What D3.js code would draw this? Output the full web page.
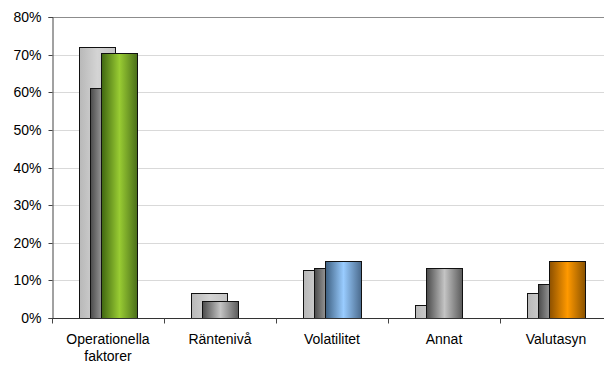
<!DOCTYPE html>
<html>
<head>
<meta charset="utf-8">
<script src="https://cdn.jsdelivr.net/npm/d3@7"></script>
<style>
  body { margin: 0; background: #fff; }
  text { font-family: Arial, "Liberation Sans", sans-serif; }
</style>
</head>
<body>
<div id="chart"></div>
<script>
// categories on the x axis (labels split on \n)
var categories = ['Operationella\nfaktorer', 'Räntenivå', 'Volatilitet', 'Annat', 'Valutasyn'];
// three series, drawn back to front
var seriesA = [0.72, 0.066, 0.127, 0.034, 0.066];
var seriesB = [0.61, 0.046, 0.132, 0.132, 0.09];
var seriesC = [0.703, 0, 0.151, 0, 0.151];
var yTicks = [0, 0.1, 0.2, 0.3, 0.4, 0.5, 0.6, 0.7, 0.8];

var width = 604, height = 365;
var plotLeft = 52, plotRight = 612, plotTop = 17, plotBottom = 318;
var barW = 36;

var svg = d3.select('#chart').append('svg')
  .attr('width', width).attr('height', height);

var defs = svg.append('defs');
// horizontal cylinder-like gradient
function grad(id, dark, light, darkR) {
  var g = defs.append('linearGradient').attr('id', id)
    .attr('x1', '0%').attr('x2', '100%').attr('y1', '0%').attr('y2', '0%');
  g.append('stop').attr('offset', '0%').attr('stop-color', dark);
  g.append('stop').attr('offset', '50%').attr('stop-color', light);
  g.append('stop').attr('offset', '100%').attr('stop-color', darkR || dark);
}
grad('g-gray', '#4a4a4a', '#c4c4c4', '#5a5a5a');
grad('g-green', '#3f6611', '#99cc33', '#4a6e1a');
grad('g-blue', '#3d5f80', '#99ccff', '#4a6a8c');
grad('g-orange', '#8c5000', '#ff9900', '#8a5200');
grad('g-light', '#b8b8b8', '#d4d4d4', '#c4c4c4');

var thirdFill = ['url(#g-green)', 'none', 'url(#g-blue)', 'none', 'url(#g-orange)'];

var x = d3.scaleBand().domain(categories).range([plotLeft, plotRight]).padding(0);
var y = d3.scaleLinear().domain([0, 0.8]).range([plotBottom, plotTop]);
var off = d3.scalePoint().domain([0, 1, 2]).range([-29, -7]);

// grid lines
svg.append('g').selectAll('line').data(yTicks.slice(1)).join('line')
  .attr('x1', plotLeft).attr('x2', width)
  .attr('y1', function (d) { return Math.round(y(d)) + 0.5; })
  .attr('y2', function (d) { return Math.round(y(d)) + 0.5; })
  .attr('stroke', function (d) { return d === 0.8 ? '#8c8c8c' : '#d9d9d9'; })
  .attr('stroke-width', 1);

var all = [
  { vals: seriesA, fill: function () { return 'url(#g-light)'; } },
  { vals: seriesB, fill: function () { return 'url(#g-gray)'; } },
  { vals: seriesC, fill: function (i) { return thirdFill[i]; } }
];

all.forEach(function (s, si) {
  svg.append('g').selectAll('rect').data(s.vals).join('rect')
    .attr('display', function (d) { return d > 0 ? null : 'none'; })
    .attr('x', function (d, i) { return Math.round(x(categories[i]) + x.bandwidth() / 2 + off(si)) + 0.5; })
    .attr('y', function (d) { return Math.round(y(d)) + 0.5; })
    .attr('width', barW)
    .attr('height', function (d) { return Math.round(plotBottom - y(d)); })
    .attr('fill', function (d, i) { return s.fill(i); })
    .attr('stroke', '#111')
    .attr('stroke-width', 1);
});

// y axis
var yAxis = svg.append('g').attr('transform', 'translate(' + (plotLeft + 0.5) + ',0)')
  .call(d3.axisLeft(y).tickValues(yTicks).tickFormat(d3.format('.0%')).tickSize(4).tickPadding(7));
yAxis.select('.domain').attr('stroke', '#444');
yAxis.selectAll('.tick line').attr('stroke', '#444');
yAxis.selectAll('text').attr('font-size', 14).attr('fill', '#000');
yAxis.selectAll('.tick').attr('transform', function (d) { return 'translate(0,' + (Math.round(y(d)) + 0.5) + ')'; });

// x axis
var xAxis = svg.append('g').attr('transform', 'translate(0,' + (plotBottom + 0.5) + ')');
xAxis.append('line').attr('x1', plotLeft).attr('x2', width).attr('stroke', '#333');
xAxis.selectAll('.sep').data(categories.slice(1)).join('line')
  .attr('class', 'sep')
  .attr('x1', function (d) { return Math.round(x(d)) + 0.5; })
  .attr('x2', function (d) { return Math.round(x(d)) + 0.5; })
  .attr('y1', 0).attr('y2', 5).attr('stroke', '#444');
xAxis.append('line').attr('x1', plotLeft + 0.5).attr('x2', plotLeft + 0.5).attr('y1', 0).attr('y2', 5).attr('stroke', '#444');

var lbl = xAxis.selectAll('.lbl').data(categories).join('text')
  .attr('class', 'lbl')
  .attr('x', function (d) { return x(d) + x.bandwidth() / 2; })
  .attr('y', 25)
  .attr('text-anchor', 'middle')
  .attr('font-size', 14)
  .attr('fill', '#000');
lbl.each(function (d) {
  var t = d3.select(this);
  d.split('\n').forEach(function (line, i) {
    t.append('tspan').attr('x', t.attr('x')).attr('dy', i ? 17 : 0).text(line);
  });
});
</script>
</body>
</html>
